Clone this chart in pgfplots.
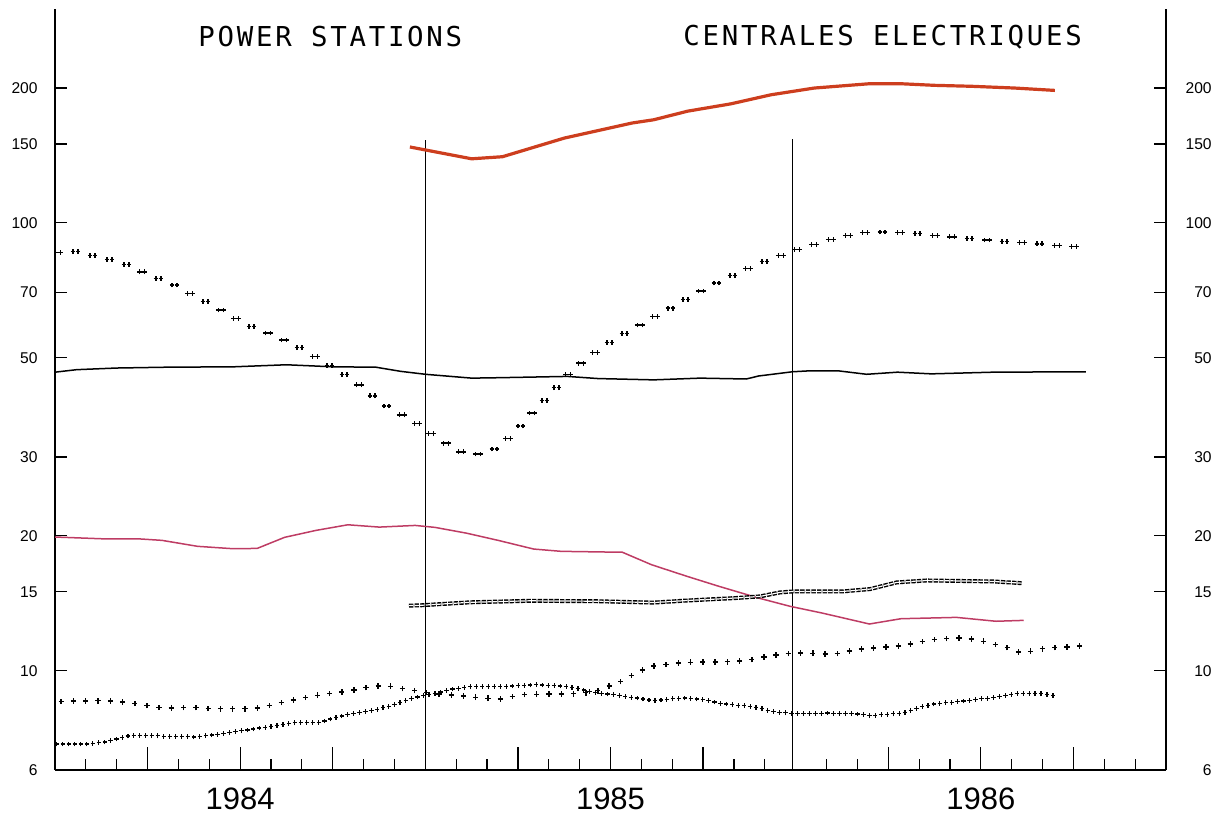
\documentclass[border=0pt]{standalone}
\usepackage{pgfplots}
\pgfplotsset{compat=1.18}
\usepackage{fontspec}
\setmainfont{Liberation Sans}
\newfontfamily\plotfont[LetterSpace=10]{DejaVu Sans Mono}
\usetikzlibrary{decorations.markings}
\definecolor{redline}{RGB}{205,62,30}
\definecolor{pinkline}{RGB}{190,60,100}

\tikzset{
  dblplus/.style={draw=none, postaction={decorate}, decoration={markings,
    mark=between positions 0 and 1 step 8.75pt with {\pgftransformresetnontranslations
      \draw[black,line width=0.7pt] (-2.4pt,0pt)--(-0.1pt,0pt) (-1.25pt,-1.2pt)--(-1.25pt,1.2pt)
        (0.1pt,0pt)--(2.4pt,0pt) (1.25pt,-1.2pt)--(1.25pt,1.2pt);}}},
  sparseplus/.style={draw=none, postaction={decorate}, decoration={markings,
    mark=between positions 0 and 1 step 6.15pt with {\pgftransformresetnontranslations
      \draw[black,line width=0.7pt] (-1.3pt,0pt)--(1.3pt,0pt) (0pt,-1.4pt)--(0pt,1.4pt);}}},
  denseplus/.style={draw=none, postaction={decorate}, decoration={markings,
    mark=between positions 0 and 1 step 3pt with {\pgftransformresetnontranslations
      \draw[black,line width=0.6pt] (-1.1pt,0pt)--(1.1pt,0pt) (0pt,-1.2pt)--(0pt,1.2pt);}}},
}

\pgfplotsset{
  myaxis/.style={scale only axis, width=555.5pt, height=380.4pt,
    xmin=0, xmax=36, ymin=6, ymax=300,
    at={(0,0)}, anchor=south west,
    axis line style={-, line width=1.4pt, black},
    tick style={line width=0.6pt, black}, tick align=inside},
}

\begin{document}
\begin{tikzpicture}
\useasboundingbox (-27.5pt,-23.5pt) rectangle (583pt,385pt);

% left y axis
\begin{axis}[ymode=log, myaxis, axis x line=none, axis y line*=left, xtick=\empty,
  ytick={6,10,15,20,30,50,70,100,150,200},
  yticklabels={6,10,15,20,30,50,70,100,150,200},
  yminorticks=false, major tick length=6pt,
  yticklabel style={font=\fontsize{7.8}{8}\selectfont, inner sep=0pt, anchor=east, xshift=-8.5pt}]
\addplot[draw=none] coordinates {(1,10)};
\end{axis}

% right y axis
\begin{axis}[ymode=log, myaxis, axis x line=none, axis y line*=right, xtick=\empty,
  ytick={6,10,15,20,30,50,70,100,150,200},
  yticklabels={6,10,15,20,30,50,70,100,150,200},
  yminorticks=false, major tick length=6pt,
  yticklabel style={font=\fontsize{7.8}{8}\selectfont, inner sep=0pt, anchor=east, xshift=23pt}]
\addplot[draw=none] coordinates {(1,10)};
\end{axis}

% main axis with data and x axis
\begin{axis}[ymode=log, myaxis, axis x line*=bottom, axis y line=none, ytick=\empty, yminorticks=false,
  xtick={3,6,9,15,18,21,27,30,33},
  xticklabels={,1984,,,1985,,,1986,},
  minor xtick={1,2,4,5,7,8,10,11,13,14,16,17,19,20,22,23,25,26,28,29,31,32,34,35},
  major tick length=11.5pt, minor tick length=5.5pt,
  xticklabel style={font=\fontsize{15.5}{16}\selectfont, inner sep=0pt, anchor=north, yshift=-8.5pt}]

% year boundary lines
\addplot[black, line width=0.7pt] coordinates {(12,6) (12,153)};
\addplot[black, line width=0.7pt] coordinates {(23.9,6) (23.9,154)};

% red thick line
\addplot[redline, line width=1.6pt] coordinates {
(11.5,147.7)(13.5,139)(14.5,140.5)(16.5,154.6)(18.7,167.1)(19.4,169.9)(20.5,177.6)
(21.9,184.4)(23.2,193.2)(24.6,200)(26.4,204.5)(27.4,204.5)(28.5,202.8)(29.7,201.8)
(31.1,200)(32.4,197.6)};

% big double-plus series
\addplot[dblplus] coordinates {
(0.1,85.9)(0.65,86.3)(1.23,84.6)(1.88,82.5)(2.43,80.2)(3.01,76.6)(3.66,74.0)(4.15,70.9)
(4.63,68.2)(5.12,65.3)(5.67,62.3)(6.16,59.5)(6.71,57.5)(7.29,55.3)(7.84,53.0)(8.33,50.8)
(8.81,48.4)(9.30,46.2)(9.82,43.6)(10.30,41.0)(10.79,38.8)(11.28,37.1)(11.76,35.5)(12.25,33.6)
(12.80,31.8)(13.35,30.3)(13.77,30.5)(14.32,31.4)(14.81,33.6)(15.18,35.7)(15.55,38.2)
(15.94,40.7)(16.33,43.4)(16.72,46.6)(17.18,49.4)(17.68,52.5)(18.18,55.3)(18.70,57.8)
(19.15,60.3)(19.67,62.9)(20.17,65.9)(20.69,68.9)(21.13,71.8)(21.71,74.9)(22.29,78.2)
(22.86,81.3)(23.49,84.4)(24.08,87.3)(24.73,89.9)(25.30,92.5)(25.87,94.4)(26.51,95.7)
(27.09,95.2)(27.74,94.9)(28.31,94.1)(28.87,93.3)(29.52,92.5)(30.10,91.7)(30.74,90.9)
(31.32,90.5)(31.95,89.7)(32.53,88.9)(33.35,88.2)};

% thin black line
\addplot[black, line width=0.75pt] coordinates {
(0,46.4)(0.7,47.0)(2,47.4)(3.6,47.6)(5.8,47.7)(7.5,48.2)(9,47.7)(10.4,47.6)(11.2,46.6)
(12,45.9)(13.5,45.0)(14.4,45.1)(16.6,45.4)(17.6,44.9)(19.4,44.6)(20.9,45.0)(22.4,44.8)
(22.8,45.5)(23.9,46.5)(24.4,46.7)(25.4,46.7)(26.3,45.9)(27.3,46.4)(28.4,46.0)(30.4,46.4)
(33.4,46.5)};

% pink line
\addplot[pinkline, line width=0.75pt] coordinates {
(0,19.88)(1.55,19.70)(2.69,19.70)(3.47,19.54)(4.62,18.95)(5.77,18.72)(6.55,18.75)
(7.44,19.85)(8.46,20.57)(9.49,21.17)(10.51,20.92)(11.67,21.10)(12.31,20.89)(13.33,20.28)
(14.36,19.54)(15.51,18.69)(16.40,18.47)(17.94,18.4)(18.37,18.4)(19.33,17.24)(20.48,16.24)
(21.51,15.43)(22.79,14.53)(23.82,13.92)(24.85,13.45)(26.39,12.71)(27.41,13.06)
(29.21,13.15)(30.49,12.89)(31.39,12.95)};

% double dashed series
\addplot[black, line width=0.7pt, double=white, double distance=0.6pt,
  dash pattern=on 2.2pt off 0.6pt] coordinates {
(11.47,13.97)(11.83,13.99)(13.45,14.21)(15.39,14.32)(17.55,14.29)(19.39,14.19)(20.47,14.34)
(22.09,14.53)(22.85,14.65)(23.49,14.95)(23.93,15.03)(25.54,15.03)(26.41,15.21)(27.27,15.74)
(28.25,15.90)(30.40,15.82)(31.32,15.68)};

% sparse plus series
\addplot[sparseplus] coordinates {
(0.2,8.54)(1.6,8.57)(2.4,8.50)(3.2,8.30)(3.6,8.25)(4.4,8.28)(5.2,8.22)(6.4,8.22)(6.8,8.32)
(7.2,8.44)(7.6,8.57)(8.0,8.69)(8.4,8.79)(8.8,8.88)(9.2,8.94)(9.6,9.02)(10.0,9.14)(10.4,9.25)
(10.8,9.25)(11.2,9.14)(11.6,9.04)(12.2,8.9)(12.7,8.84)(13.55,8.73)(14.4,8.64)(15.1,8.84)
(15.9,8.87)(16.7,8.87)(17.5,8.96)(17.9,9.22)(18.3,9.43)(18.6,9.71)(19.0,10.0)(19.3,10.22)
(19.7,10.31)(20.5,10.44)(21.6,10.45)(22.4,10.52)(22.8,10.67)(23.2,10.80)(23.6,10.90)
(24.0,10.95)(24.8,10.93)(25.2,10.86)(25.6,11.01)(26.0,11.14)(26.4,11.23)(27.2,11.31)
(27.6,11.43)(28.0,11.59)(28.4,11.73)(28.8,11.79)(29.2,11.83)(29.6,11.79)(30.0,11.67)
(30.5,11.43)(30.9,11.23)(31.3,10.95)(31.7,11.08)(32.1,11.23)(32.5,11.27)(32.9,11.31)
(33.3,11.37)};

% dense plus series
\addplot[denseplus] coordinates {
(0.06,6.86)(1.13,6.86)(1.62,6.93)(2.0,7.04)(2.43,7.17)(3.08,7.16)(3.83,7.13)(4.48,7.11)
(5.13,7.19)(5.78,7.29)(6.43,7.41)(7.07,7.53)(7.62,7.64)(8.16,7.66)(8.59,7.66)(9.02,7.84)
(9.56,8.00)(10.31,8.15)(10.86,8.35)(11.40,8.61)(11.83,8.76)(12.37,8.91)(12.91,9.11)
(13.45,9.20)(14.53,9.22)(15.61,9.30)(16.15,9.27)(16.58,9.22)(17.01,9.09)(17.44,8.96)
(18.31,8.79)(18.85,8.69)(19.39,8.57)(19.93,8.64)(20.47,8.69)(21.01,8.62)(21.55,8.45)
(22.09,8.38)(22.63,8.31)(23.17,8.14)(23.44,8.07)(23.87,8.03)(25.01,8.04)(26.09,8.00)
(26.41,7.93)(27.49,8.04)(27.92,8.25)(28.46,8.42)(29.33,8.54)(30.40,8.71)(31.27,8.91)
(32.03,8.87)(32.35,8.80)};
\end{axis}

\node[anchor=base west, inner sep=0pt, font=\plotfont\fontsize{13.7}{14}\selectfont]
  at (71.5pt,361.5pt) {POWER STATIONS};
\node[anchor=base west, inner sep=0pt, font=\plotfont\fontsize{13.7}{14}\selectfont]
  at (314pt,362pt) {CENTRALES ELECTRIQUES};
\end{tikzpicture}
\end{document}
